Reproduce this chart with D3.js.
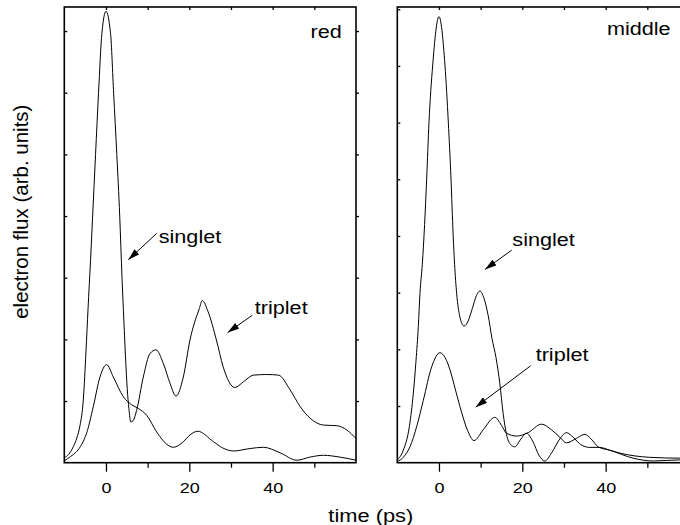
<!DOCTYPE html>
<html>
<head>
<meta charset="utf-8">
<script src="https://cdn.jsdelivr.net/npm/d3@7"></script>
<style>
body { margin: 0; background: #fff; }
svg { display: block; font-family: "Liberation Sans", Arial, sans-serif; }
</style>
</head>
<body>
<div id="chart"></div>
<script>
// values: [time (ps), electron flux (arb. units)]
const redPeak = [[-10,0.08],[-9,0.13],[-7.84,0.26],[-7,0.4],[-6.24,0.6],[-5.44,1.02],[-4.8,1.8],[-4.3,2.5],
  [-3.7,3.29],[-3.2,4.0],[-2.5,5.0],[-1.79,5.99],[-0.98,6.96],[0,7.32],[1.1,6.96],[1.84,5.99],[2.6,5.0],
  [3.3,4.0],[3.85,3.0],[4.3,2.3],[4.7,1.7],[5.1,1.2],[5.5,0.88],[5.95,0.66],[6.5,0.68],[7.36,0.85],
  [8.96,1.39],[10.56,1.77],[12,1.83],[13.76,1.61],[15.36,1.29],[16.8,1.08],[18.56,1.39],[20.16,1.99],
  [22.4,2.5],[23.1,2.63],[24.5,2.45],[26.5,1.99],[28.1,1.56],[30.9,1.22],[32.96,1.31],[35.4,1.42],
  [38.6,1.43],[41.4,1.42],[44.2,1.18],[46.6,0.91],[49,0.72],[52.2,0.61],[55.4,0.6],[57.8,0.53],[60,0.39]];
const redLow = [[-10,0.03],[-8.5,0.1],[-7.04,0.18],[-5.8,0.3],[-4.64,0.48],[-3.04,0.91],[-1.44,1.39],
  [0.16,1.59],[1.76,1.39],[4.16,1.07],[6.16,0.94],[7.76,0.88],[9.76,0.77],[12.16,0.5],[14.56,0.3],
  [16.16,0.25],[18.56,0.34],[20.16,0.45],[22,0.51],[25.8,0.34],[28,0.24],[30.6,0.19],[34.6,0.23],
  [37.8,0.25],[41.8,0.16],[45.8,0.04],[48.9,0.09],[52.2,0.12],[56.2,0.09],[60,0.04]];
const midPeak = [[-10,0.05],[-8.56,0.22],[-7.1,0.64],[-6.16,1.22],[-5.5,1.81],[-4.96,2.4],[-4.56,2.99],
  [-4.0,3.5],[-3.45,4.2],[-2.96,5.0],[-2.4,6.0],[-1.52,7.0],[0,7.87],[1.44,7.01],[2.24,6.01],[2.88,5.02],
  [3.4,4.02],[3.75,3.5],[4.24,2.99],[5,2.58],[6,2.41],[7,2.5],[8,2.72],[9,2.95],[9.84,3.03],[10.8,2.9],
  [11.8,2.6],[12.7,2.2],[13.7,1.85],[14.6,1.4],[15.4,0.87],[16.2,0.5],[17.2,0.32],[18.2,0.28],[19.5,0.4],
  [21,0.52],[22.5,0.38],[24,0.13],[25.4,0.03],[27,0.17],[29,0.42],[30.6,0.53],[32.2,0.45],[34,0.32],
  [36.2,0.27],[38.6,0.27],[41,0.22],[43.4,0.17],[50.6,0.095],[57.8,0.08],[60,0.08]];
const midLow = [[-10,0.02],[-8.5,0.1],[-6.96,0.28],[-5.3,0.65],[-3.76,1.1],[-1.76,1.69],[0.24,1.94],
  [1.5,1.85],[2.64,1.64],[3.9,1.3],[5.04,0.99],[6.8,0.58],[8.4,0.39],[10.6,0.58],[13.4,0.8],[15,0.66],
  [16.2,0.52],[18.6,0.47],[21.4,0.53],[24.6,0.68],[27,0.58],[29,0.45],[30.6,0.35],[33,0.43],[35,0.5],
  [36.5,0.42],[38.2,0.28],[41,0.22],[46.6,0.08],[51.4,0.03],[57.8,0.05],[60,0.05]];

const xDomain = [-10, 60];
const majorTicks = [0, 20, 40];
const minorTicks = [10, 30, 50];
const redYTicks = [1, 2, 3, 4, 5, 6, 7];
const midYTicks = [1, 2, 3, 4, 5, 6, 7, 8];

// annotations: text position and arrow (tail -> tip) in data units
const redNotes = [
  {text: "red", t: 49.1, v: 6.88},
  {text: "singlet", t: 12.65, v: 3.57, arrow: [[12.2, 3.72], [5.35, 3.29]]},
  {text: "triplet", t: 35.7, v: 2.41, arrow: [[35.1, 2.39], [29.2, 2.11]]}
];
const midNotes = [
  {text: "middle", t: 40.3, v: 7.54},
  {text: "singlet", t: 17.6, v: 3.83, arrow: [[17.45, 3.75], [11.04, 3.41]]},
  {text: "triplet", t: 23.2, v: 1.80, arrow: [[22.0, 1.71], [8.8, 0.98]]}
];

const width = 680, height = 525;
const plotTop = 7, plotBottom = 462.7, plotWidth = 291.7;

const svg = d3.select("#chart").append("svg")
  .attr("width", width)
  .attr("height", height);

svg.append("defs").append("marker")
  .attr("id", "head")
  .attr("viewBox", "0 0 10 6")
  .attr("refX", 10).attr("refY", 3)
  .attr("markerWidth", 12).attr("markerHeight", 7)
  .attr("markerUnits", "userSpaceOnUse")
  .attr("orient", "auto")
  .append("path").attr("d", "M0,0L10,3L0,6Z").attr("fill", "#000");

function stretchText(sel, x, y, str, size, sx, anchor) {
  return sel.append("text")
    .attr("transform", `translate(${x},${y}) scale(${sx},1)`)
    .attr("font-size", size)
    .attr("text-anchor", anchor || "start")
    .attr("fill", "#000")
    .text(str);
}

const panels = [
  {id: "red", left: 64.3, yMax: 7.39, yTicks: redYTicks, curves: [redPeak, redLow], notes: redNotes},
  {id: "mid", left: 397.3, yMax: 8.04, yTicks: midYTicks, curves: [midPeak, midLow], notes: midNotes}
];

panels.forEach(p => {
  const x = d3.scaleLinear().domain(xDomain).range([p.left, p.left + plotWidth]);
  const y = d3.scaleLinear().domain([0, p.yMax]).range([plotBottom, plotTop]);
  const g = svg.append("g");

  g.append("clipPath").attr("id", "clip-" + p.id)
    .append("rect")
    .attr("x", x(xDomain[0])).attr("y", plotTop)
    .attr("width", plotWidth).attr("height", plotBottom - plotTop);

  const line = d3.line()
    .x(d => x(d[0]))
    .y(d => y(d[1]))
    .curve(d3.curveMonotoneX);

  g.append("g").attr("clip-path", `url(#clip-${p.id})`)
    .selectAll("path")
    .data(p.curves)
    .join("path")
      .attr("d", line)
      .attr("fill", "none")
      .attr("stroke", "#000")
      .attr("stroke-width", 1);

  // bottom axis: labelled major ticks and short minor ticks
  const bottomAxis = g.append("g")
    .attr("transform", `translate(0,${plotBottom})`)
    .call(d3.axisBottom(x).tickValues(majorTicks).tickSize(9).tickPadding(10.5));
  bottomAxis.selectAll("text")
    .attr("font-size", 15)
    .attr("font-family", "Liberation Sans, Arial, sans-serif")
    .attr("fill", "#000")
    .attr("transform", "scale(1.2,1)");
  g.append("g")
    .attr("transform", `translate(0,${plotBottom})`)
    .call(d3.axisBottom(x).tickValues(minorTicks).tickSize(5).tickFormat(""));

  // top axis, ticks pointing in
  g.append("g")
    .attr("transform", `translate(0,${plotTop})`)
    .call(d3.axisBottom(x).tickValues(majorTicks.concat(minorTicks)).tickSize(3).tickFormat(""));

  // left (inward) and right (outward) ticks
  g.append("g")
    .attr("transform", `translate(${x(xDomain[0])},0)`)
    .call(d3.axisRight(y).tickValues(p.yTicks).tickSize(3).tickFormat(""));
  g.append("g")
    .attr("transform", `translate(${x(xDomain[1])},0)`)
    .call(d3.axisRight(y).tickValues(p.yTicks).tickSize(3).tickFormat(""));

  g.selectAll(".domain").remove();
  g.selectAll(".tick line").attr("stroke", "#000").attr("stroke-width", 1.3);

  g.append("rect")
    .attr("x", x(xDomain[0])).attr("y", plotTop)
    .attr("width", plotWidth).attr("height", plotBottom - plotTop)
    .attr("fill", "none")
    .attr("stroke", "#000")
    .attr("stroke-width", 1.6);

  p.notes.forEach(n => {
    stretchText(g, x(n.t), y(n.v), n.text, 18.5, 1.17);
    if (n.arrow) {
      g.append("line")
        .attr("x1", x(n.arrow[0][0])).attr("y1", y(n.arrow[0][1]))
        .attr("x2", x(n.arrow[1][0])).attr("y2", y(n.arrow[1][1]))
        .attr("stroke", "#000")
        .attr("stroke-width", 1)
        .attr("marker-end", "url(#head)");
    }
  });
});

// axis titles
stretchText(svg, 370.8, 521.7, "time (ps)", 19, 1.15, "middle");
svg.append("text")
  .attr("transform", "translate(28.3,211.7) rotate(-90)")
  .attr("font-size", 20.5)
  .attr("text-anchor", "middle")
  .attr("fill", "#000")
  .text("electron flux (arb. units)");
</script>
</body>
</html>
